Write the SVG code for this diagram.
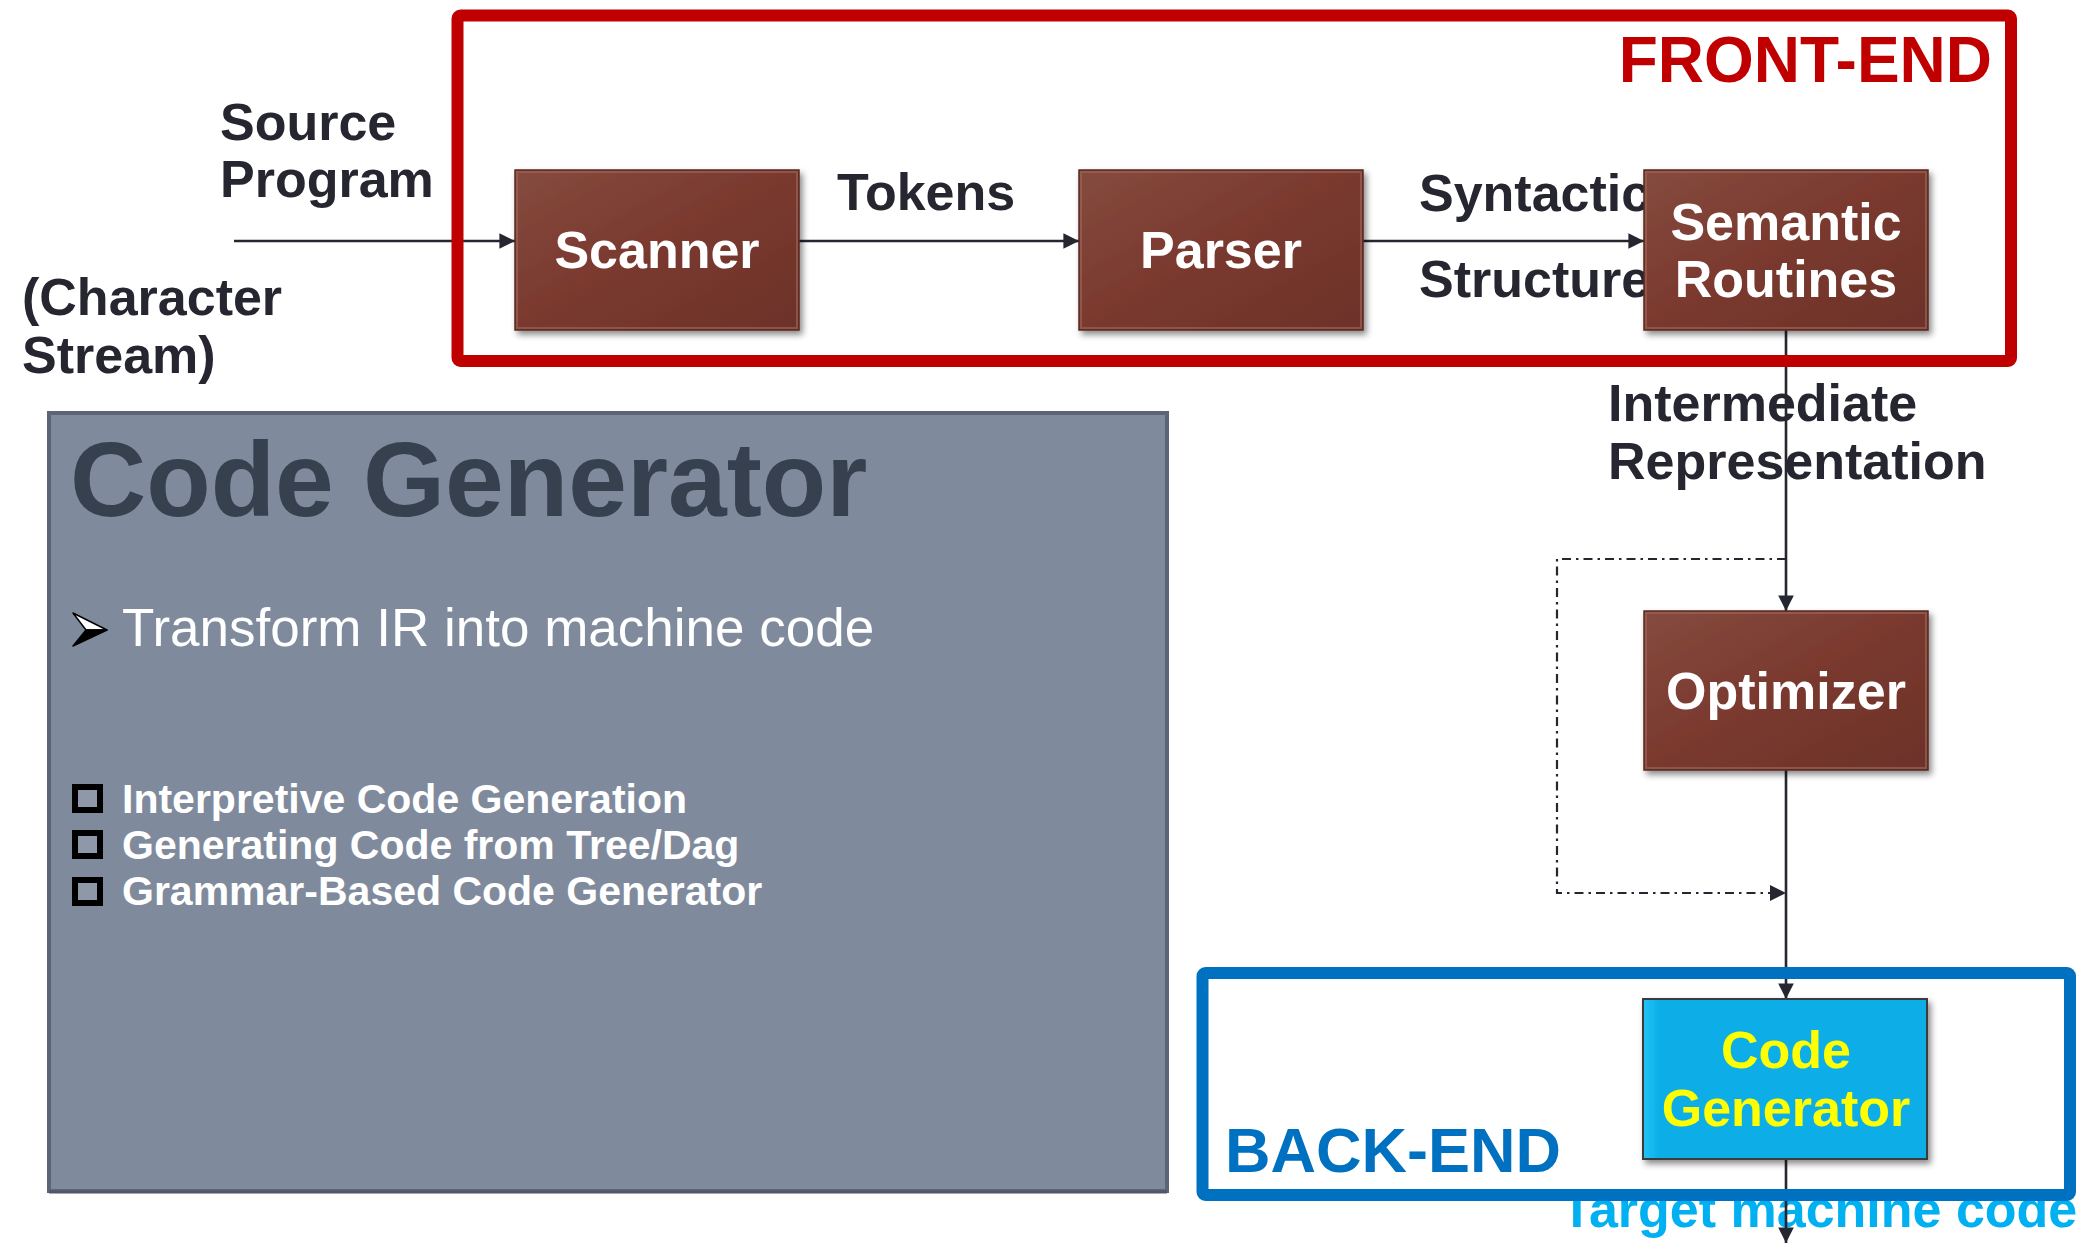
<svg xmlns="http://www.w3.org/2000/svg" width="2088" height="1243" viewBox="0 0 2088 1243">
  <defs>
    <linearGradient id="brown" x1="0" y1="0" x2="1" y2="1">
      <stop offset="0" stop-color="#854B3F"/>
      <stop offset="0.45" stop-color="#7B3A2F"/>
      <stop offset="1" stop-color="#6C3229"/>
    </linearGradient>
    <linearGradient id="cyan" x1="0" y1="0" x2="1" y2="0">
      <stop offset="0" stop-color="#22C4F8"/>
      <stop offset="0.06" stop-color="#0AAEE8"/>
      <stop offset="1" stop-color="#0AAEE8"/>
    </linearGradient>
    <filter id="shadow" x="-10%" y="-10%" width="125%" height="130%">
      <feDropShadow dx="3" dy="4" stdDeviation="3" flood-color="#000" flood-opacity="0.45"/>
    </filter>
    <marker id="arrow" viewBox="0 0 10 10" refX="10" refY="5" markerWidth="6" markerHeight="6" markerUnits="strokeWidth" orient="auto">
      <path d="M0,0 L10,5 L0,10 Z" fill="#262630"/>
    </marker>
    <style>
      .lbl { font-family: "Liberation Sans", Arial, sans-serif; font-weight: bold; font-size: 52px; fill: #262630; }
      .node-text { font-family: "Liberation Sans", Arial, sans-serif; font-weight: bold; font-size: 52px; fill: #FFFFFF; text-anchor: middle; }
      .box { fill: url(#brown); stroke: #5A2A22; stroke-width: 1.5; filter: url(#shadow); }
      .bevel { fill: none; stroke: #9A6256; stroke-width: 2; opacity: 0.7; }
      .edge { fill: none; stroke: #262630; stroke-width: 2.6; }
      .dashdot { fill: none; stroke: #262630; stroke-width: 2.2; stroke-dasharray: 9 5 2.5 5; }
      .panel-item { font-family: "Liberation Sans", Arial, sans-serif; font-weight: bold; font-size: 41px; fill: #FFFFFF; }
      .sq { fill: #8E98A8; stroke: #000000; stroke-width: 6; }
    </style>
  </defs>

  <rect width="2088" height="1243" fill="#FFFFFF"/>

  <!-- side panel: code generator summary -->
  <g id="info-panel">
    <rect x="49" y="413" width="1118" height="778" fill="#7F8B9D" stroke="#5B6576" stroke-width="4"/>
    <line x1="49" y1="1192" x2="1167" y2="1192" stroke="#4F5868" stroke-width="3"/>
    <text x="70" y="516" font-family="Liberation Sans, Arial, sans-serif" font-weight="bold" font-size="105.5" fill="#36404E">Code Generator</text>
    <!-- 3-D arrowhead bullet: lit upper half, dark lower half -->
    <path d="M73,613 L107,630 L86,630 Z" fill="#FFFFFF" stroke="#000000" stroke-width="1.5" stroke-linejoin="round"/>
    <path d="M73,646 L107,630 L86,630 Z" fill="#000000" stroke="#000000" stroke-width="1.5" stroke-linejoin="round"/>
    <text x="122" y="646" font-family="Liberation Sans, Arial, sans-serif" font-size="53" fill="#FFFFFF">Transform IR into machine code</text>
    <rect class="sq" x="75" y="787" width="25" height="23"/>
    <text class="panel-item" x="122" y="813">Interpretive Code Generation</text>
    <rect class="sq" x="75" y="833" width="25" height="23"/>
    <text class="panel-item" x="122" y="859">Generating Code from Tree/Dag</text>
    <rect class="sq" x="75" y="880" width="25" height="23"/>
    <text class="panel-item" x="122" y="905">Grammar-Based Code Generator</text>
  </g>

  <!-- edge labels -->
  <g id="edge-labels">
    <text class="lbl" x="220" y="140">Source</text>
    <text class="lbl" x="220" y="197">Program</text>
    <text class="lbl" x="22" y="315">(Character</text>
    <text class="lbl" x="22" y="373">Stream)</text>
    <text class="lbl" x="837" y="210">Tokens</text>
    <text class="lbl" x="1419" y="211">Syntactic</text>
    <text class="lbl" x="1419" y="297">Structure</text>
    <text class="lbl" x="1608" y="421">Intermediate</text>
    <text class="lbl" x="1608" y="479">Representation</text>
    <text class="lbl" x="1561" y="1227" style="fill:#00B0F0">Target machine code</text>
  </g>

  <!-- connectors -->
  <g id="connectors">
    <line class="edge" x1="234" y1="241" x2="515" y2="241" marker-end="url(#arrow)"/>
    <line class="edge" x1="799" y1="241" x2="1079" y2="241" marker-end="url(#arrow)"/>
    <line class="edge" x1="1363" y1="241" x2="1644" y2="241" marker-end="url(#arrow)"/>
    <line class="edge" x1="1786" y1="330" x2="1786" y2="611" marker-end="url(#arrow)"/>
    <line class="edge" x1="1786" y1="770" x2="1786" y2="999" marker-end="url(#arrow)"/>
    <line class="edge" x1="1786" y1="1159" x2="1786" y2="1243" marker-end="url(#arrow)"/>
    <path class="dashdot" d="M1786,559 H1557 V893 H1772"/>
    <path d="M1770,885 L1786,893 L1770,901 Z" fill="#262630"/>
  </g>

  <!-- phase nodes -->
  <g id="scanner">
    <rect class="box" x="515" y="170" width="284" height="160"/>
    <rect class="bevel" x="517" y="172" width="280" height="156"/>
    <text class="node-text" x="657" y="268">Scanner</text>
  </g>
  <g id="parser">
    <rect class="box" x="1079" y="170" width="284" height="160"/>
    <rect class="bevel" x="1081" y="172" width="280" height="156"/>
    <text class="node-text" x="1221" y="268">Parser</text>
  </g>
  <g id="semantic-routines">
    <rect class="box" x="1644" y="170" width="284" height="160"/>
    <rect class="bevel" x="1646" y="172" width="280" height="156"/>
    <text class="node-text" x="1786" y="240">Semantic</text>
    <text class="node-text" x="1786" y="297">Routines</text>
  </g>
  <g id="optimizer">
    <rect class="box" x="1644" y="611" width="284" height="159"/>
    <rect class="bevel" x="1646" y="613" width="280" height="155"/>
    <text class="node-text" x="1786" y="709">Optimizer</text>
  </g>
  <g id="code-generator">
    <rect x="1643" y="999" width="284" height="160" fill="url(#cyan)" stroke="#3A3A3A" stroke-width="2" filter="url(#shadow)"/>
    <text class="node-text" x="1786" y="1068" style="fill:#FFFF00">Code</text>
    <text class="node-text" x="1786" y="1126" style="fill:#FFFF00">Generator</text>
  </g>

  <!-- phase frames -->
  <g id="front-end">
    <rect x="457.5" y="15.5" width="1553.5" height="345.5" rx="3" fill="none" stroke="#C00000" stroke-width="12" stroke-linejoin="round"/>
    <text x="1992" y="82" text-anchor="end" font-family="Liberation Sans, Arial, sans-serif" font-weight="bold" font-size="64" fill="#C00000">FRONT-END</text>
  </g>
  <g id="back-end">
    <rect x="1202.5" y="973" width="867.5" height="222" rx="3" fill="none" stroke="#0070C0" stroke-width="12" stroke-linejoin="round"/>
    <text x="1225" y="1172" font-family="Liberation Sans, Arial, sans-serif" font-weight="bold" font-size="63" fill="#0070C0">BACK-END</text>
  </g>
</svg>
